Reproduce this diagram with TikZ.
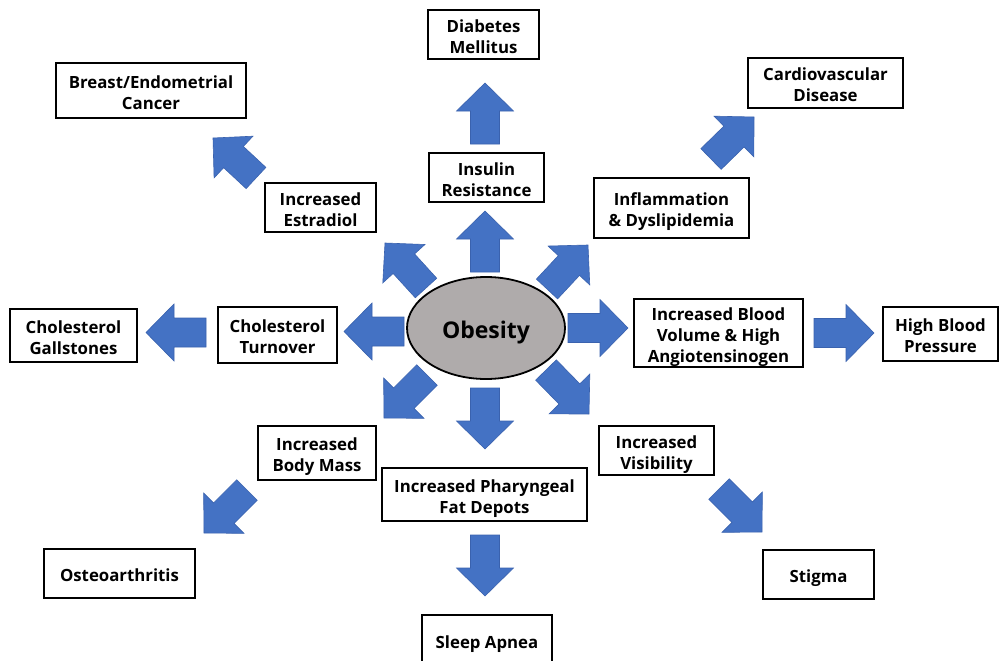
\documentclass[tikz,border=0pt]{standalone}
\usepackage{fontspec}
\setmainfont{Open Sans}
\usetikzlibrary{calc,shapes.geometric}
\definecolor{arrblue}{HTML}{4472C4}
\definecolor{arredge}{HTML}{3A62AE}
\definecolor{obgray}{HTML}{AFABAB}
\newcommand\bt[1]{\raisebox{-4pt}[\height][\depth]{\begin{tabular}{@{}c@{}}#1\end{tabular}}}
\tikzset{
  box/.style={draw=black, line width=1.3pt, fill=white, inner sep=0pt,
    font=\bfseries\fontsize{16.8}{21}\selectfont},
  blk/.style={fill=arrblue, draw=arredge, line width=0.6pt, line join=miter},
  obesitynode/.style={ellipse, draw=black, line width=1.8pt, fill=obgray, inner sep=0pt,
    minimum width=158pt, minimum height=102pt, font=\bfseries\fontsize{23}{28}\selectfont}
}
\newcommand\blockarrow[2]{%
  \coordinate (#1-#2-h) at ($(#2)!28pt!(#1)$);
  \draw[blk] ($(#1)!14.5pt!90:(#2)$) -- ($(#1-#2-h)!14.5pt!90:(#2)$)
    -- ($(#1-#2-h)!28.5pt!90:(#2)$) -- (#2)
    -- ($(#1-#2-h)!28.5pt!-90:(#2)$) -- ($(#1-#2-h)!14.5pt!-90:(#2)$)
    -- ($(#1)!14.5pt!-90:(#2)$) -- cycle;}
\begin{document}
\begin{tikzpicture}[x=1pt,y=-1pt]
\useasboundingbox (0,0) rectangle (999,661);
\fill[white] (0,0) rectangle (999,661);
% boxes
\node[box, minimum width=111pt, minimum height=49pt] (dm) at (483.5,34.5) {\bt{Diabetes\\Mellitus}};
\node[box, minimum width=190pt, minimum height=55pt] (bec) at (151,90.5) {\bt{Breast/Endometrial\\Cancer}};
\node[box, minimum width=155pt, minimum height=50pt] (cvd) at (825.5,83) {\bt{Cardiovascular\\Disease}};
\node[box, minimum width=115pt, minimum height=49pt] (ir) at (486.5,177.5) {\bt{Insulin\\Resistance}};
\node[box, minimum width=111pt, minimum height=49pt] (ie) at (320.5,207.5) {\bt{Increased\\Estradiol}};
\node[box, minimum width=155pt, minimum height=60pt] (infl) at (671.5,208) {\bt{Inflammation\\\& Dyslipidemia}};
\node[box, minimum width=127pt, minimum height=53pt] (cg) at (73.5,335.5) {\bt{Cholesterol\\Gallstones}};
\node[box, minimum width=119pt, minimum height=56pt] (ct) at (277.5,335) {\bt{Cholesterol\\Turnover}};
\node[box, minimum width=169pt, minimum height=68pt] (ibv) at (718.5,333) {\bt{Increased Blood\\Volume \& High\\Angiotensinogen}};
\node[box, minimum width=115pt, minimum height=54pt] (hbp) at (940.5,334) {\bt{High Blood\\Pressure}};
\node[box, minimum width=118pt, minimum height=54pt] (ibm) at (317,453) {\bt{Increased\\Body Mass}};
\node[box, minimum width=205pt, minimum height=53pt] (ipf) at (484.5,494.5) {\bt{Increased Pharyngeal\\Fat Depots}};
\node[box, minimum width=115pt, minimum height=49pt] (iv) at (656.5,450.5) {\bt{Increased\\Visibility}};
\node[box, minimum width=151pt, minimum height=49pt] (oa) at (119.5,573.5) {\bt{Osteoarthritis}};
\node[box, minimum width=111pt, minimum height=49pt] (st) at (818.5,574.5) {\bt{Stigma}};
\node[box, minimum width=130pt, minimum height=50pt] (sa) at (487,640) {\bt{Sleep Apnea}};
% arrow end points
\coordinate (a1s) at (485,272);  \coordinate (a1e) at (485,211);
\coordinate (a2s) at (485,144);  \coordinate (a2e) at (485,83);
\coordinate (a3s) at (426,288);  \coordinate (a3e) at (385,243);
\coordinate (a4s) at (256,178);  \coordinate (a4e) at (213,138);
\coordinate (a5s) at (547,289);  \coordinate (a5e) at (588,245);
\coordinate (a6s) at (711,159);  \coordinate (a6e) at (754,117);
\coordinate (a7s) at (404,331.5);  \coordinate (a7e) at (344,331.5);
\coordinate (a8s) at (206,332.5);  \coordinate (a8e) at (146,332.5);
\coordinate (a9s) at (568,328);  \coordinate (a9e) at (628,328);
\coordinate (a10s) at (814,333); \coordinate (a10e) at (874,333);
\coordinate (a11s) at (427,375); \coordinate (a11e) at (384,418);
\coordinate (a12s) at (247,490); \coordinate (a12e) at (204,533);
\coordinate (a13s) at (485,388); \coordinate (a13e) at (485,449);
\coordinate (a14s) at (485,535); \coordinate (a14e) at (485,596);
\coordinate (a15s) at (546,370); \coordinate (a15e) at (589,414);
\coordinate (a16s) at (719,489); \coordinate (a16e) at (762,532);
\blockarrow{a1s}{a1e}
\blockarrow{a2s}{a2e}
\blockarrow{a3s}{a3e}
\blockarrow{a4s}{a4e}
\blockarrow{a5s}{a5e}
\blockarrow{a6s}{a6e}
\blockarrow{a7s}{a7e}
\blockarrow{a8s}{a8e}
\blockarrow{a9s}{a9e}
\blockarrow{a10s}{a10e}
\blockarrow{a11s}{a11e}
\blockarrow{a12s}{a12e}
\blockarrow{a13s}{a13e}
\blockarrow{a14s}{a14e}
\blockarrow{a15s}{a15e}
\blockarrow{a16s}{a16e}
% centre
\node[obesitynode] (ob) at (486,328) {\raisebox{-5pt}[\height][\depth]{Obesity}};
\end{tikzpicture}
\end{document}
